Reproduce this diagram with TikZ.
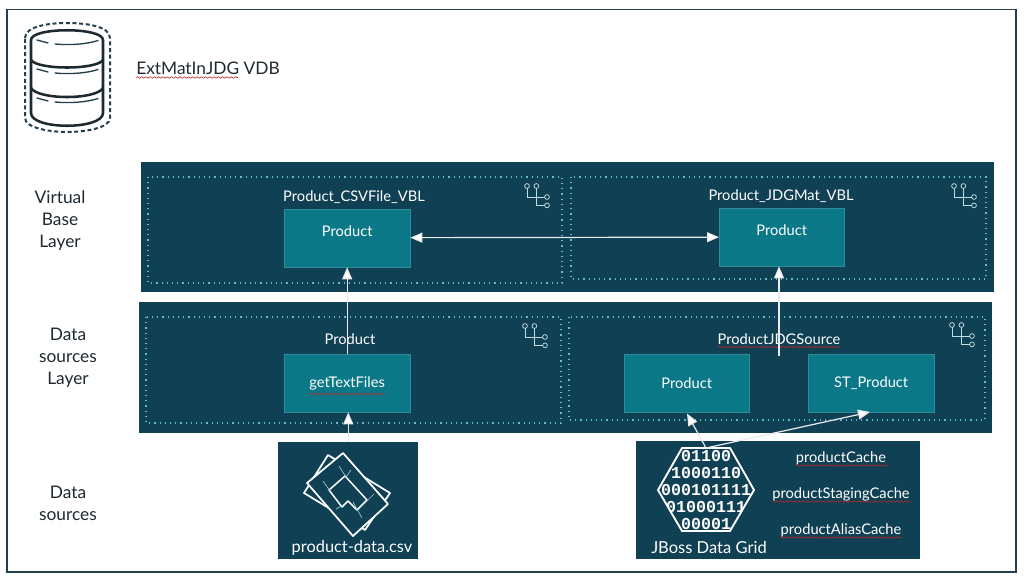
\documentclass[tikz,border=0pt]{standalone}
\usepackage{fontspec}
\setmainfont{Lato}
\newfontfamily\digitfont{Liberation Mono}[Scale=1]
\usetikzlibrary{arrows.meta,decorations.pathmorphing}
\definecolor{panel}{HTML}{0F4054}
\definecolor{teal}{HTML}{0B7888}
\definecolor{dots}{HTML}{5FC0C8}
\definecolor{frame}{HTML}{24404C}
\definecolor{inkc}{HTML}{1E2A30}
\tikzset{
  panelbox/.style={fill=panel,draw=none},
  dotbox/.style={draw=dots,line width=0.9pt,dash pattern=on 0.9pt off 3pt},
  tealbox/.style={fill=teal,draw=teal!85!white,line width=0.25pt,text=white,font=\fontsize{11pt}{12pt}\selectfont,inner sep=0pt},
  lighttext/.style={text=white,font=\fontsize{11pt}{12pt}\selectfont,inner sep=0pt},
  sidetext/.style={text=inkc,font=\fontsize{13pt}{16.5pt}\selectfont,align=center,inner sep=0pt},
  link/.style={draw=white!92!black,line width=0.9pt,-{Triangle[fill=white,length=9pt,width=7.5pt]}},
  linkboth/.style={draw=white!92!black,line width=0.9pt,{Triangle[fill=white,length=9pt,width=7.5pt]}-{Triangle[fill=white,length=9pt,width=7.5pt]}},
  squig/.style={draw=red!70!black!85,line width=0.45pt,decorate,decoration={snake,amplitude=0.55pt,segment length=3.2pt}},
  iconline/.style={draw=white!75!teal,line width=0.55pt},
  cyl/.style={draw=inkc,line width=1.9pt,line join=round},
  cylthin/.style={draw=frame,line width=1pt,line cap=round},
  sheet/.style={draw=white,line width=1.3pt,line join=round},
  crop/.style={draw=white!60!teal,line width=0.5pt}
}
\newcommand{\treeicon}[2]{%
  \begin{scope}[shift={(#1,#2)}]
    \draw[iconline] (0,2.4) -- (0,11) -- (17.6,11);
    \draw[iconline] (9.4,2.4) -- (9.4,19.4) -- (17.6,19.4);
    \draw[iconline] (0,0) circle (2.4) (9.4,0) circle (2.4) (20,11) circle (2.4) (20,19.4) circle (2.4);
  \end{scope}}
\begin{document}
\begin{tikzpicture}[x=0.75pt,y=-0.75pt]
\useasboundingbox (0,0) rectangle (1024,578);
\fill[white] (0,0) rectangle (1024,578);
\draw[frame,line width=1pt] (7,9.5) rectangle (1016,572);

% database icon
\draw[draw=frame,line width=1.5pt,dash pattern=on 3pt off 2pt] (25,38) .. controls (25,26) and (50,23) .. (67,23) .. controls (85,23) and (110,26) .. (110,38) -- (110,118) .. controls (110,128) and (85,132) .. (67,132) .. controls (50,132) and (25,128) .. (25,118) -- cycle;
\draw[cyl] (31,40) .. controls (31,27) and (103,27) .. (103,40) -- (103,113) .. controls (103,130) and (31,130) .. (31,113) -- cycle;
\draw[cyl] (31,60) .. controls (38,70) and (96,70) .. (103,60);
\draw[cyl] (31,88) .. controls (38,100) and (96,100) .. (103,88);
\foreach \yy in {0,29,58}{
  \draw[cylthin] (37,40+\yy) -- (48,43+\yy);
  \draw[cylthin] (55,44+\yy) .. controls (70,45.5+\yy) and (88,44+\yy) .. (98,40.5+\yy);
}
\node[anchor=west,text=inkc,font=\fontsize{13pt}{14pt}\selectfont,inner sep=0pt] (title) at (136,68) {ExtMatInJDG VDB};
\draw[squig] (136,77.5) -- (238,77.5);

% side labels
\node[sidetext] (lblvbl) at (60,221) {Virtual\\Base\\Layer};
\node[sidetext] (lblds) at (68,358) {Data\\sources\\Layer};
\node[sidetext] (lblsrc) at (68,503) {Data\\sources};

% panels
\fill[panelbox] (141,162) rectangle (994,292);
\fill[panelbox] (139,302) rectangle (992,433);
\draw[dotbox] (148,177) rectangle (562,283);
\draw[dotbox] (571,177) rectangle (986,279);
\draw[dotbox] (146,317) rectangle (561,423);
\draw[dotbox] (569,317) rectangle (985,420);
\treeicon{527}{186}
\treeicon{954}{186}
\treeicon{525}{326}
\treeicon{952}{325}

\node[lighttext] (lcsv) at (354,197) {Product\_CSVFile\_VBL};
\node[lighttext] (ljdg) at (781,196) {Product\_JDGMat\_VBL};
\node[lighttext] (lprod) at (350,339) {Product};
\node[lighttext] (lsrc) at (779,339) {ProductJDGSource};
\draw[squig] (718,347) -- (840,347);

% boxes
\node[tealbox,minimum width=126pt*0.75,minimum height=58pt*0.75,anchor=north west] (vprod) at (284,209) {\raisebox{10pt}{Product}};
\node[tealbox,minimum width=125pt*0.75,minimum height=58pt*0.75,anchor=north west] (jprod) at (719,208) {\raisebox{10pt}{Product}};
\node[tealbox,minimum width=126pt*0.75,minimum height=58pt*0.75,anchor=north west] (gtf) at (284,354) {\raisebox{-1pt}{getTextFiles}};
\node[tealbox,minimum width=125pt*0.75,minimum height=58pt*0.75,anchor=north west] (sprod) at (624,354) {\raisebox{-1pt}{Product}};
\node[tealbox,minimum width=126pt*0.75,minimum height=58pt*0.75,anchor=north west] (stprod) at (808,354) {\raisebox{-1pt}{ST\_Product}};
\draw[squig] (309,394) -- (385,394);

% source panels
\node[fill=panel,minimum width=140pt*0.75,minimum height=117pt*0.75,anchor=north west,inner sep=0pt] (csvbox) at (278,442) {};
\node[fill=panel,minimum width=284pt*0.75,minimum height=118pt*0.75,anchor=north west,inner sep=0pt] (jdgbox) at (636,441) {};

% file icon
\draw[sheet] (328,455) -- (390,493) -- (365,530) -- (304,493) -- cycle;
\fill[panel] (343,453) -- (388,504) -- (353,536) -- (307,483) -- cycle;
\draw[sheet] (343,453) -- (388,504) -- (353,536) -- (307,483) -- cycle;
\draw[sheet,line width=1.1pt] (345,476) -- (367,500) -- (357,510) -- (348,501) -- (342,507) -- (329,490) -- cycle;
\draw[crop] (339,466) -- (346,477) (351,470) -- (346,477);
\draw[crop] (323,481) -- (330,491);
\draw[crop] (336,509) -- (343,505) (353,502) -- (362,518);
\draw[crop] (358,510) -- (374,494);
\node[text=white,font=\fontsize{12.3pt}{14pt}\selectfont,inner sep=0pt] (csvtxt) at (352,548) {product-data.csv};

% hexagon with digits
\begin{scope}
  \clip (682,448) -- (730,448) -- (754,490) -- (730,531) -- (682,531) -- (658,490) -- cycle;
  \foreach \yy/\tx in {456.5/01100,473/1000110,490/000101111,507.5/01000111,524/00001}{
    \node[text=white,font=\digitfont\bfseries\fontsize{12.5pt}{14pt}\selectfont,inner sep=0pt] at (706,\yy) {\tx};
  }
\end{scope}
\node[draw=none,inner sep=0pt] (hexc) at (706,448) {};
\draw[sheet,line width=1.4pt] (682,448) -- (730,448) -- (754,490) -- (730,531) -- (682,531) -- (658,490) -- cycle;
\node[text=white,font=\fontsize{12.4pt}{14pt}\selectfont,inner sep=0pt] (jdgtxt) at (709,547) {JBoss Data Grid};

\node[lighttext] (c1) at (841,458) {productCache};
\node[lighttext] (c2) at (841,494) {productStagingCache};
\node[lighttext] (c3) at (841,530) {productAliasCache};
\draw[squig] (796,465.5) -- (887,465.5);
\draw[squig] (772,501.5) -- (910,501.5);
\draw[squig] (780,537.5) -- (901,537.5);

% connectors
\coordinate (jstart) at (779,356);
\draw[link] (csvbox.north) -- (csvbox.north |- gtf.south);
\draw[link] (gtf.north) -- (gtf.north |- vprod.south);
\draw[linkboth] (vprod.east) ++(0,-0.5) -- (jprod.west);
\draw[link] (jstart) -- (jstart |- jprod.south);
\draw[link] (hexc) -- (687,413.5);
\draw[link] (hexc) -- (870,412);
\end{tikzpicture}
\end{document}
